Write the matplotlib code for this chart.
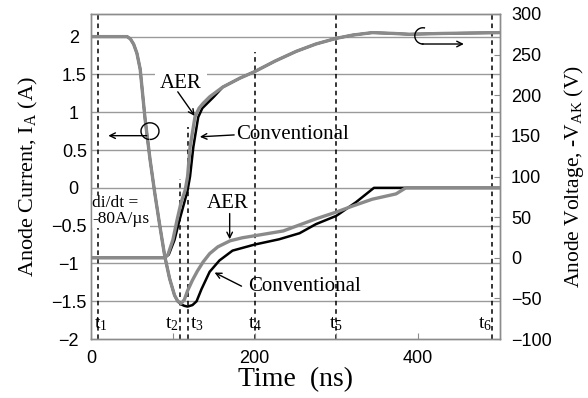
import matplotlib
matplotlib.use("Agg")
import matplotlib.pyplot as plt
from matplotlib.patches import Arc

plt.rcParams['font.family'] = 'Liberation Serif'
plt.rcParams['mathtext.fontset'] = 'custom'
plt.rcParams['mathtext.rm'] = 'Liberation Serif'
plt.rcParams['mathtext.it'] = 'Liberation Serif:italic'
plt.rcParams['axes.unicode_minus'] = True

# anode current (A), left axis
t_i_aer = [0, 44, 48, 52, 56, 60, 66, 72, 78, 84, 90, 96, 102, 106, 110, 114, 118,
           124, 130, 137, 145, 155, 170, 185, 202, 235, 275, 300, 320, 344, 373, 385, 500]
i_aer = [2.0, 2.0, 1.97, 1.9, 1.78, 1.57, 0.91, 0.38, -0.08, -0.5, -0.9, -1.2, -1.42,
         -1.5, -1.53, -1.48, -1.36, -1.22, -1.10, -0.98, -0.87, -0.78, -0.70, -0.66,
         -0.63, -0.57, -0.41, -0.32, -0.24, -0.15, -0.08, 0.0, 0.0]
t_i_conv = [0, 44, 48, 52, 56, 60, 66, 72, 78, 84, 90, 96, 102, 106, 110, 114, 118,
            124, 129, 135, 145, 157, 173, 200, 230, 255, 275, 300, 324, 346, 500]
i_conv = [2.0, 2.0, 1.97, 1.9, 1.78, 1.57, 0.91, 0.38, -0.08, -0.5, -0.9, -1.2, -1.42,
          -1.5, -1.54, -1.56, -1.57, -1.55, -1.5, -1.34, -1.11, -0.96, -0.83, -0.75,
          -0.68, -0.6, -0.48, -0.37, -0.19, 0.0, 0.0]

# anode voltage -VAK (V), right axis
t_v_aer = [0, 90, 94, 100, 105, 110, 115, 118, 121, 127, 132, 137, 145, 161, 182,
           200, 225, 251, 275, 300, 320, 344, 370, 389, 430, 500]
v_aer = [0, 0, 4, 22, 46, 68, 83, 100, 136, 173, 184, 190, 198, 210, 221,
         229, 242, 254, 263, 270, 274, 277, 276, 275, 276, 277]
t_v_conv = [0, 90, 95, 102, 108, 114, 118, 121, 125, 131, 136, 142, 150, 161, 182,
            200, 225, 251, 275, 300, 320, 344, 370, 389, 430, 500]
v_conv = [0, 0, 4, 22, 46, 68, 83, 100, 136, 173, 184, 190, 198, 210, 221,
          229, 242, 254, 263, 270, 274, 277, 276, 275, 276, 277]

# timing markers: time, top of dashed line (A), label position
t_marks = [9, 108.5, 118, 200, 300, 491]
t_tops = [2.3, 0.12, 0.81, 1.8, 2.3, 2.3]
t_names = ['t$_1$', 't$_2$', 't$_3$', 't$_4$', 't$_5$', 't$_6$']
t_label_x = [12, 99, 130, 201, 300, 482]

left_ticks = [-2, -1.5, -1, -0.5, 0, 0.5, 1, 1.5, 2]
right_ticks = [-100, -50, 0, 50, 100, 150, 200, 250, 300]

gray = '#8a8a8a'
frame = '#8c8c8c'

fig = plt.figure(figsize=(5.88, 3.98), dpi=100)
ax = fig.add_axes([0.155, 0.148, 0.695, 0.817])
ax2 = ax.twinx()

ax.set_xlim(0, 500)
ax.set_ylim(-2, 2.3)
ax2.set_ylim(-100, 300)

for y in left_ticks[1:]:
    ax.axhline(y, color='#9a9a9a', lw=1.0, zorder=0)

ax.vlines(t_marks, -2, t_tops, colors='k', linestyles=(0, (3, 2.5)), lw=1.1, zorder=1)

ax.plot(t_i_aer, i_aer, color=gray, lw=2.4, zorder=3)
ax.plot(t_i_conv, i_conv, color='k', lw=1.8, zorder=2)
ax2.plot(t_v_conv, v_conv, color='k', lw=1.8, zorder=2)
ax2.plot(t_v_aer, v_aer, color=gray, lw=2.4, zorder=3)

# ticks
ax.set_yticks(left_ticks)
ax.set_yticklabels(['\u22122', '\u22121.5', '\u22121', '\u22120.5', '0', '0.5', '1', '1.5', '2'],
                   family='Liberation Sans', fontsize=13)
ax.tick_params(axis='y', length=0, pad=3)
for lab, v in zip(ax.get_yticklabels(), left_ticks):
    if float(v).is_integer():
        lab.set_x(-0.02)
ax.set_xticks([0, 100, 200, 300, 400])
ax.set_xticklabels(['0', '', '200', '', '400'], family='Liberation Sans', fontsize=13)
ax.tick_params(axis='x', direction='in', length=4, color=frame, pad=8)
ax2.set_yticks(right_ticks)
ax2.set_yticklabels(['\u2212100', '\u221250', '0', '50', '100', '150', '200', '250', '300'],
                    family='Liberation Sans', fontsize=13)
ax2.tick_params(axis='y', direction='in', length=4, color=frame, pad=8)

for a in (ax, ax2):
    for s in a.spines.values():
        s.set_color(frame)
        s.set_linewidth(1.0)

ax.set_xlabel('Time  (ns)', fontsize=20, labelpad=0)
ax.set_ylabel('Anode Current, I$_{\\mathrm{A}}$ (A)', fontsize=16, labelpad=8)
ax2.set_ylabel('Anode Voltage, -V$_{\\mathrm{AK}}$ (V)', fontsize=15.5)
ax2.yaxis.set_label_coords(1.152, 0.5)

# t labels
for x, s in zip(t_label_x, t_names):
    ax.text(x, -1.8, s, fontsize=14, ha='center', va='center', zorder=4)

box = dict(facecolor='white', edgecolor='none', pad=3.5)
arw = dict(arrowstyle='->', color='k', lw=1.0, shrinkA=0, shrinkB=0)

ax.text(110, 1.38, 'AER', fontsize=15, ha='center', va='center', bbox=box, zorder=4)
ax.annotate('', xy=(126.8, 0.95), xytext=(106, 1.27), arrowprops=arw, zorder=5)
ax.text(178, 0.71, 'Conventional', fontsize=15, ha='left', va='center', zorder=4)
ax.annotate('', xy=(133, 0.675), xytext=(175, 0.70), arrowprops=arw, zorder=5)

ax.text(167, -0.21, 'AER', fontsize=15, ha='center', va='center', zorder=4)
ax.annotate('', xy=(169.5, -0.68), xytext=(169.5, -0.34), arrowprops=arw, zorder=5)
ax.text(191.5, -1.30, 'Conventional', fontsize=15, ha='left', va='center', zorder=4)
ax.annotate('', xy=(151, -1.12), xytext=(184, -1.30), arrowprops=arw, zorder=5)

ax.text(1.5, -0.31, 'di/dt =\n-80A/\u00b5s', fontsize=12.5, ha='left', va='center',
        linespacing=1.0, bbox=dict(facecolor='white', edgecolor='none', pad=0.5), zorder=4)

# curly arrows showing which axis each curve belongs to
ax.add_patch(Arc((72, 0.75), 22, 0.22, theta1=-110, theta2=190, color='k', lw=1.0, zorder=5))
ax.annotate('', xy=(21, 0.69), xytext=(68, 0.69), arrowprops=arw, zorder=5)
ax2.add_patch(Arc((406, 273), 20, 20, theta1=75, theta2=275, color='k', lw=1.0, zorder=5))
ax2.annotate('', xy=(456, 263), xytext=(405, 263), arrowprops=arw, zorder=5)

plt.savefig('out.png', dpi=100)
